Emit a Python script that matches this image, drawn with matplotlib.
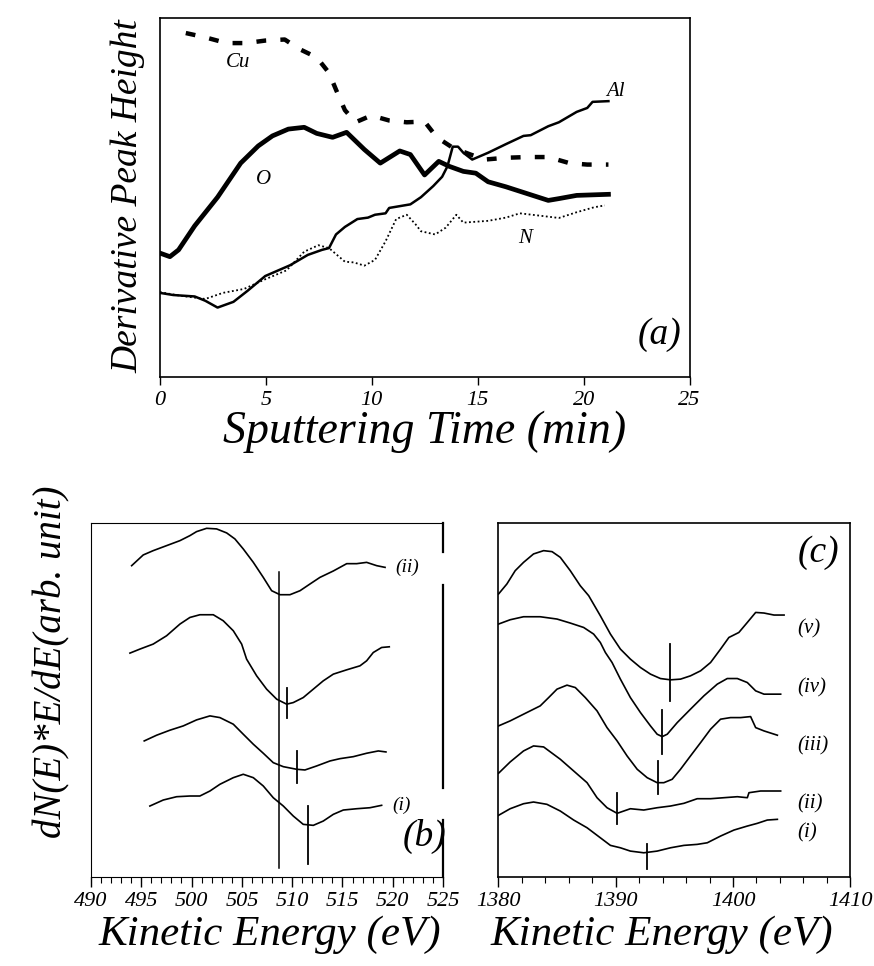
import numpy as np
import matplotlib
matplotlib.use("Agg")
import matplotlib.pyplot as plt
from matplotlib.ticker import MultipleLocator

plt.rcParams['font.family'] = ['Liberation Serif', 'DejaVu Serif']
plt.rcParams['font.style'] = 'italic'
plt.rcParams['mathtext.default'] = 'it'

# ---- panel (a): depth profile ----
cu_t = [1.22, 2.14, 3.14, 4.06, 4.97, 5.89, 6.56, 7.40, 7.98, 8.31, 8.73, 9.23, 9.98,
        10.82, 11.65, 12.49, 13.07, 13.82, 14.66, 15.33, 16.33, 17.33, 18.33, 19.33,
        20.17, 21.17]
cu_h = [95.9, 94.7, 93.1, 93.1, 93.8, 94.1, 91.5, 89.1, 84.8, 80.1, 74.4, 71.0, 72.9,
        71.5, 71.0, 71.2, 66.8, 63.9, 62.0, 60.6, 61.1, 61.3, 61.3, 59.6, 59.2, 59.2]

o_t = [0, 0.47, 0.88, 1.64, 2.72, 3.81, 4.64, 5.31, 6.06, 6.81, 7.40, 8.15, 8.81, 9.65,
       10.40, 11.32, 11.82, 12.49, 13.16, 13.66, 14.32, 14.91, 15.49, 16.33, 17.33,
       18.33, 18.83, 19.67, 21.17]
o_h = [34.5, 33.5, 35.4, 42.1, 50.1, 59.6, 64.4, 67.2, 69.1, 69.6, 67.9, 66.8, 68.2,
       63.4, 59.6, 63.0, 62.0, 56.3, 60.1, 58.7, 57.3, 56.8, 54.4, 53.0, 51.1, 49.2,
       49.7, 50.6, 50.9]

al_t = [0, 0.63, 1.64, 2.14, 2.72, 3.47, 4.14, 4.97, 6.14, 6.98, 7.65, 7.98, 8.31, 8.73,
        9.32, 9.82, 10.15, 10.65, 10.82, 11.32, 11.82, 12.32, 12.90, 13.32, 13.57, 13.82,
        14.07, 14.32, 14.74, 15.49, 16.33, 17.16, 17.50, 18.33, 18.83, 19.67, 20.17,
        20.42, 21.17]
al_h = [23.4, 22.8, 22.4, 21.2, 19.3, 20.9, 24.0, 28.1, 31.1, 34.0, 35.4, 35.9, 39.7,
        41.8, 44.0, 44.4, 45.2, 45.6, 47.1, 47.6, 48.1, 50.1, 53.2, 55.8, 58.7, 64.2,
        64.2, 62.5, 60.6, 62.5, 64.9, 67.2, 67.4, 69.9, 71.0, 73.9, 75.0, 76.7, 76.9]

n_t = [0, 0.97, 2.14, 2.97, 3.97, 4.97, 5.98, 6.81, 7.48, 7.98, 8.73, 9.15, 9.65, 10.15,
       10.65, 11.15, 11.65, 12.07, 12.32, 12.99, 13.49, 13.99, 14.32, 15.49, 16.33,
       16.99, 17.99, 18.83, 19.67, 20.50, 21.00]
n_h = [23.6, 22.6, 21.7, 23.4, 24.5, 27.2, 29.7, 34.9, 36.7, 35.9, 32.1, 31.9, 31.0,
       32.6, 37.8, 44.0, 45.2, 42.5, 40.6, 39.7, 41.6, 45.2, 43.0, 43.5, 44.4, 45.6,
       44.9, 44.3, 45.9, 47.3, 47.8]

# ---- panel (b): O KLL region, spectra (ii) top ... (i) bottom ----
b_e = [
    [494.05, 495.20, 496.19, 497.52, 498.85, 499.84, 500.50, 501.50, 502.49, 503.49,
     504.31, 505.14, 506.14, 507.13, 507.96, 508.79, 509.78, 510.78, 511.77, 512.76,
     514.09, 515.42, 516.41, 517.40, 518.40, 519.23],
    [493.88, 494.87, 496.19, 497.52, 498.85, 499.84, 500.83, 502.16, 503.15, 504.15,
     504.98, 505.47, 506.47, 507.46, 508.46, 509.45, 510.11, 511.10, 512.10, 513.09,
     514.09, 515.42, 516.74, 517.40, 518.06, 518.89, 519.65],
    [495.30, 496.53, 497.85, 499.18, 500.50, 501.83, 502.82, 504.15, 505.14, 506.14,
     507.13, 508.12, 509.12, 510.44, 511.27, 512.43, 513.76, 514.75, 516.08, 517.40,
     518.56, 519.32],
    [495.86, 497.19, 498.52, 499.84, 500.83, 501.83, 502.82, 504.15, 505.14, 506.14,
     507.13, 508.12, 509.12, 510.11, 511.10, 512.10, 513.09, 514.09, 515.08, 516.41,
     517.73, 518.89],
]
b_s = [
    [311, 321.7, 326, 331, 336, 341, 345, 348.3, 347.7, 343.7, 337.7, 327.7, 314.3,
     299.3, 286, 282, 282, 286, 292.7, 299.3, 305.7, 313, 313, 314.3, 311, 309.3],
    [223.7, 227.7, 232.7, 241, 252.7, 259.3, 262, 262, 256, 246, 232.7, 217.7, 201,
     187.7, 177.7, 172.7, 174.3, 179.3, 187.7, 196, 202.7, 207, 211, 216, 224.3, 229.3,
     230],
    [136, 141.7, 146.7, 151, 157, 161, 159.3, 152.7, 142.7, 132.7, 123.7, 114.3, 110.3,
     107.7, 107, 111, 116, 118.3, 120.3, 123.7, 126, 125],
    [71, 77, 80.3, 81, 81, 86, 92.7, 99.3, 102.7, 99.3, 91, 79.3, 71, 61, 52.7, 51.7,
     56, 62.7, 67, 68.3, 69.3, 71.7],
]
b_ref = 508.7
b_min_e = [509.5, 510.44, 511.6]
b_min_lo = [159.3, 94.3, 12.7]
b_min_hi = [189.3, 126, 71]

# ---- panel (c): Al KLL region, spectra (v) top ... (i) bottom ----
c_e = [
    [1380.03, 1380.74, 1381.45, 1382.16, 1383.01, 1383.87, 1384.59, 1385.29, 1386.14,
     1386.99, 1387.71, 1388.70, 1389.56, 1390.41, 1391.26, 1392.12, 1392.97, 1393.82,
     1394.68, 1395.53, 1396.38, 1397.24, 1398.09, 1398.94, 1399.65, 1400.50, 1401.22,
     1401.93, 1402.64, 1403.49, 1404.35],
    [1380.03, 1381.02, 1382.16, 1383.58, 1385.01, 1386.14, 1387.28, 1388.13, 1388.70,
     1389.13, 1389.70, 1390.41, 1391.26, 1392.12, 1392.97, 1393.54, 1393.97, 1394.40,
     1395.25, 1396.38, 1397.52, 1398.66, 1399.51, 1400.37, 1401.22, 1401.93, 1402.64,
     1404.06],
    [1380.03, 1381.02, 1382.16, 1383.58, 1384.30, 1385.01, 1385.86, 1386.57, 1387.42,
     1388.42, 1389.27, 1390.13, 1390.98, 1391.84, 1392.69, 1393.54, 1394.11, 1394.82,
     1395.53, 1396.38, 1397.24, 1398.09, 1398.94, 1399.79, 1400.65, 1401.50, 1401.93,
     1402.64, 1403.78],
    [1380.03, 1381.02, 1382.16, 1383.01, 1383.87, 1385.29, 1386.43, 1387.57, 1388.42,
     1389.27, 1390.13, 1391.26, 1392.40, 1393.54, 1394.68, 1395.82, 1396.95, 1398.09,
     1399.22, 1400.37, 1401.22, 1401.36, 1402.35, 1404.06],
    [1380.03, 1381.02, 1382.16, 1383.01, 1384.15, 1385.29, 1386.43, 1387.57, 1388.70,
     1389.56, 1390.41, 1391.26, 1392.40, 1393.54, 1394.68, 1395.82, 1396.95, 1397.81,
     1398.94, 1400.08, 1401.22, 1402.07, 1402.92, 1403.78],
]
c_s = [
    [282.7, 292.7, 306, 314.3, 322.7, 326, 325, 319.3, 306, 291, 281, 261, 242.7, 227.7,
     217.7, 209.3, 202.7, 198.3, 197, 197.7, 201, 206, 214.3, 227.7, 239.3, 244.3,
     254.3, 264.3, 263.7, 261.7, 261.7],
    [252.7, 257, 260, 260, 257.7, 253.7, 249.3, 242.7, 234.3, 224.3, 214.3, 197.7,
     179.3, 164.3, 151, 142.7, 140.3, 142.7, 154.3, 167.7, 181, 192.7, 198.3, 198.3,
     194.3, 186, 182.7, 182.7],
    [151, 156, 162.7, 171, 179.3, 187.7, 191.7, 189.3, 179.3, 166, 149.3, 136, 121,
     107.7, 99.3, 94.3, 94.3, 97.7, 107.7, 121, 134.3, 147.7, 157.7, 159.3, 159.3,
     160.3, 149.3, 146, 141.7],
    [103.7, 115, 126, 131, 130, 117.7, 106, 94.3, 79.3, 69.3, 63.7, 68.3, 67, 69.3, 71,
     73.7, 78.3, 78.3, 79.3, 80.3, 79.3, 84.3, 86, 86],
    [61.7, 68.3, 73.3, 75, 72.7, 66, 57, 49.3, 39.3, 31.7, 29.3, 26, 24.3, 26, 29.3,
     31.7, 32.7, 34.3, 41, 47, 51, 53.7, 57, 57.7],
]
c_min_e = [1394.6, 1393.97, 1393.6, 1390.13, 1392.7]
c_min_lo = [176, 122.7, 82.7, 52.7, 7.7]
c_min_hi = [232.7, 167, 116, 84.3, 32.7]
c_names = ['(v)', '(iv)', '(iii)', '(ii)', '(i)']
c_label_y = [247.7, 189, 131, 72.7, 44.3]

fig = plt.figure(figsize=(8.74, 9.66), dpi=100)

# (a)
ax_a = fig.add_axes([0.183, 0.610, 0.606, 0.371])
ax_a.plot(cu_t, cu_h, color='black', lw=3.2, linestyle=(0, (2.2, 3.2)))
ax_a.plot(o_t, o_h, color='black', lw=3.4)
ax_a.plot(al_t, al_h, color='black', lw=1.8)
ax_a.plot(n_t, n_h, color='black', lw=1.3, linestyle=(0, (1, 1.4)))
ax_a.set_xlim(0, 25)
ax_a.set_ylim(0, 100)
ax_a.set_xticks([0, 5, 10, 15, 20, 25])
ax_a.set_yticks([])
ax_a.tick_params(axis='x', direction='out', length=6, width=1, labelsize=16, pad=4)
for s in ax_a.spines.values():
    s.set_linewidth(1.2)
ax_a.text(3.7, 87.7, 'Cu', fontsize=15, ha='center', va='center')
ax_a.text(21.5, 79.6, 'Al', fontsize=15, ha='center', va='center')
ax_a.text(4.9, 54.9, 'O', fontsize=15, ha='center', va='center')
ax_a.text(17.25, 38.7, 'N', fontsize=15, ha='center', va='center')
ax_a.text(23.6, 11.7, '(a)', fontsize=27, ha='center', va='center')

# (b)
ax_b = fig.add_axes([0.104, 0.092, 0.403, 0.367])
for e, s in zip(b_e, b_s):
    ax_b.plot(e, s, color='black', lw=1.2)
ax_b.plot([b_ref, b_ref], [9.3, 304.3], color='black', lw=1.1)
for e, lo, hi in zip(b_min_e, b_min_lo, b_min_hi):
    ax_b.plot([e, e], [lo, hi], color='black', lw=1.3)
ax_b.set_xlim(490, 525)
ax_b.set_ylim(0, 354)
ax_b.set_xticks(np.arange(490, 526, 5))
ax_b.xaxis.set_minor_locator(MultipleLocator(1))
ax_b.set_yticks([])
ax_b.tick_params(axis='x', which='major', direction='out', length=7, width=1,
                 labelsize=16, pad=4)
ax_b.tick_params(axis='x', which='minor', direction='out', length=4, width=0.8)
ax_b.spines['right'].set_visible(False)
for lo, hi in [(325, 354), (89, 292), (0, 57)]:
    ax_b.plot([525, 525], [lo, hi], color='black', lw=1.6, clip_on=False)
ax_b.text(520.2, 309.3, '(ii)', fontsize=14, ha='left', va='center')
ax_b.text(520.0, 71.7, '(i)', fontsize=14, ha='left', va='center')
ax_b.text(523.2, 41, '(b)', fontsize=27, ha='center', va='center')

# (c)
ax_c = fig.add_axes([0.570, 0.092, 0.403, 0.367])
for e, s in zip(c_e, c_s):
    ax_c.plot(e, s, color='black', lw=1.2)
for e, lo, hi in zip(c_min_e, c_min_lo, c_min_hi):
    ax_c.plot([e, e], [lo, hi], color='black', lw=1.3)
for name, y in zip(c_names, c_label_y):
    ax_c.text(1405.5, y, name, fontsize=15, ha='left', va='center')
ax_c.text(1407.3, 324, '(c)', fontsize=27, ha='center', va='center')
ax_c.set_xlim(1380, 1410)
ax_c.set_ylim(0, 354)
ax_c.set_xticks([1380, 1390, 1400, 1410])
ax_c.xaxis.set_minor_locator(MultipleLocator(2))
ax_c.set_yticks([])
ax_c.tick_params(axis='x', which='major', direction='out', length=7, width=1,
                 labelsize=16, pad=4)
ax_c.tick_params(axis='x', which='minor', direction='out', length=4, width=0.8)
for s in ax_c.spines.values():
    s.set_linewidth(1.2)

# axis titles
fig.text(425 / 874, 1 - 432 / 966, 'Sputtering Time (min)', fontsize=33,
         ha='center', va='center')
fig.text(128 / 874, 1 - 196 / 966, 'Derivative Peak Height', fontsize=27,
         ha='center', va='center', rotation=90)
fig.text(52 / 874, 1 - 662 / 966, 'dN(E)*E/dE(arb. unit)', fontsize=28,
         ha='center', va='center', rotation=90)
fig.text(270 / 874, 1 - 935 / 966, 'Kinetic Energy (eV)', fontsize=31,
         ha='center', va='center')
fig.text(662 / 874, 1 - 935 / 966, 'Kinetic Energy (eV)', fontsize=31,
         ha='center', va='center')

fig.savefig('out.png', dpi=100)
